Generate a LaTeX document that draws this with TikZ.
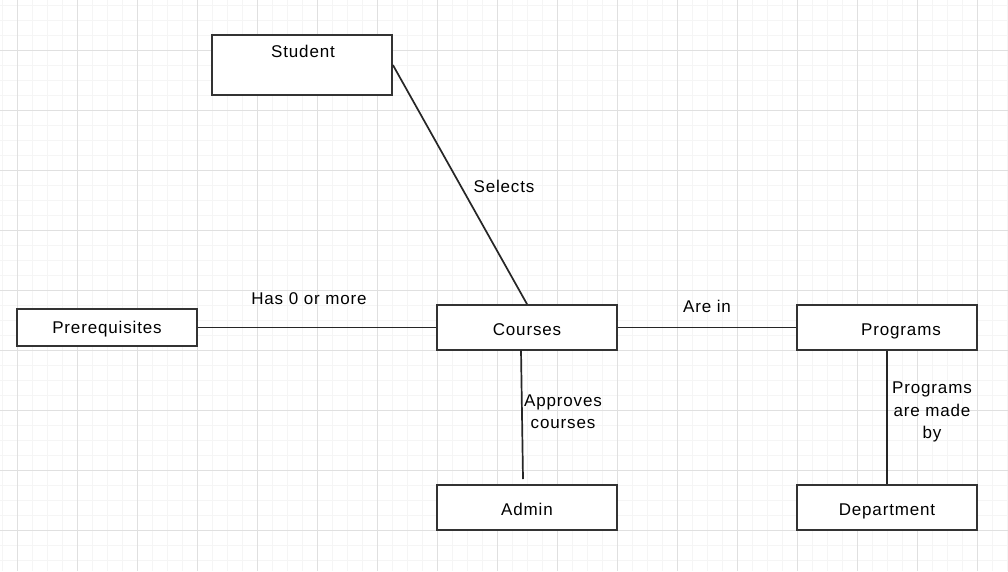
\documentclass[tikz,border=0pt]{standalone}
\usepackage{fontspec}
\setmainfont{Liberation Sans}[LetterSpace=5]
\newcommand\diafont{\fontsize{17}{22.5}\selectfont}
\tikzset{
  box/.style={draw=black!80, line width=1.8pt, minimum width=180pt, minimum height=45pt, inner sep=0pt, fill=white, font=\diafont, text height=16pt, text depth=0pt},
  link/.style={line width=1.7pt, draw=black!85},
  lbl/.style={font=\diafont, inner sep=0pt, align=center},
  minorgrid/.style={draw=black!4, line width=0.8pt},
  majorgrid/.style={draw=black!12, line width=0.8pt}
}
\begin{document}
\begin{tikzpicture}[x=1pt, y=-1pt]
\useasboundingbox (0,0) rectangle (1008,571);
\fill[white] (0,0) rectangle (1008,571);
% grid
\foreach \gx in {2,17,...,1007} \draw[minorgrid] (\gx,0) -- (\gx,571);
\foreach \gy in {5,20,...,570} \draw[minorgrid] (0,\gy) -- (1008,\gy);
\foreach \gx in {17,77,...,1007} \draw[majorgrid] (\gx,0) -- (\gx,571);
\foreach \gy in {50,110,...,570} \draw[majorgrid] (0,\gy) -- (1008,\gy);
% boxes
\node[box, minimum height=60pt] (student) at (302,65) {};
\node[lbl] (studenttext) at (303,51) {Student};
\node[box, minimum height=37pt, text height=12pt] (prereq) at (107,327.5) {Prerequisites};
\node[box] (courses) at (527,327.5) {Courses};
\node[box] (programs) at (887,327.5) {};
\node[lbl] (programstext) at (901,331) {Programs};
\node[box] (admin) at (527,507.5) {Admin};
\node[box] (dept) at (887,507.5) {Department};
% connectors
\coordinate (cbot) at (521,350);
\coordinate (adminend) at (523,479);
\draw[link] (student.east) -- (courses.north);
\draw[link] (prereq.east) -- (courses.west);
\draw[link] (courses.east) -- (programs.west);
\draw[link] (cbot) -- (adminend);
\draw[link] (programs.south) -- (dept.north);
% labels
\node[lbl] (selects) at (504,186) {Selects};
\node[lbl] (has) at (309,299) {Has 0 or more};
\node[lbl] (arein) at (707,306) {Are in};
\node[lbl] (approves) at (563,411.5) {Approves\\courses};
\node[lbl] (made) at (932,412) {Programs\\are made\\by};
\end{tikzpicture}
\end{document}
